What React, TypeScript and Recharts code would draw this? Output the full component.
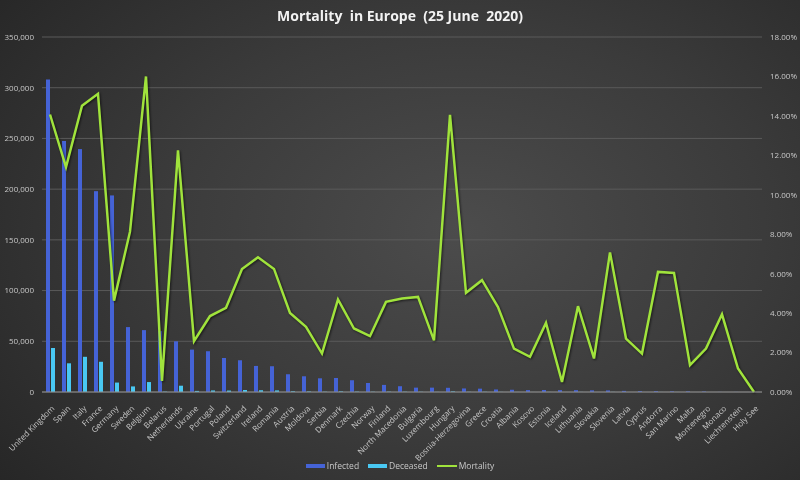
import React from 'react';
import { ComposedChart, Bar, Line, XAxis, YAxis, CartesianGrid } from 'recharts';

const countries = [
  'United Kingdom', 'Spain', 'Italy', 'France', 'Germany', 'Sweden', 'Belgium', 'Belarus', 'Netherlands',
  'Ukraine', 'Portugal', 'Poland', 'Switzerland', 'Ireland', 'Romania', 'Austria', 'Moldova', 'Serbia',
  'Denmark', 'Czechia', 'Norway', 'Finland', 'North Macedonia', 'Bulgaria', 'Luxembourg', 'Hungary',
  'Bosnia-Herzegovina', 'Greece', 'Croatia', 'Albania', 'Kosovo', 'Estonia', 'Iceland', 'Lithuania',
  'Slovakia', 'Slovenia', 'Latvia', 'Cyprus', 'Andorra', 'San Marino', 'Malta', 'Montenegro', 'Monaco',
  'Liechtenstein', 'Holy See',
];

const infected = [
  308000, 247500, 239500, 198000, 193800, 64000, 61000, 60000, 50000, 41800, 40200, 33500, 31300, 25700,
  25400, 17500, 15500, 13500, 13800, 11600, 8900, 7000, 5700, 4300, 4300, 4150, 3500, 3300, 2500, 2200,
  1900, 2000, 1840, 1820, 1620, 1550, 1110, 990, 855, 700, 670, 520, 100, 83, 12,
];

const deceased = [
  43400, 28300, 34700, 29800, 9300, 5500, 9800, 340, 6200, 1080, 1540, 1430, 1960, 1730, 1580, 700, 510,
  260, 600, 350, 250, 320, 270, 210, 110, 580, 175, 190, 107, 48, 34, 69, 10, 79, 28, 110, 30, 19, 52, 42,
  9, 11, 4, 1, 0,
];

// percent
const mortality = [
  14.07, 11.4, 14.52, 15.12, 4.63, 8.13, 16.0, 0.56, 12.25, 2.58, 3.85, 4.27, 6.24, 6.83, 6.24, 4.01, 3.3,
  1.95, 4.69, 3.22, 2.83, 4.57, 4.74, 4.82, 2.62, 14.05, 5.03, 5.67, 4.31, 2.2, 1.78, 3.5, 0.51, 4.35, 1.7,
  7.08, 2.71, 1.95, 6.09, 6.04, 1.36, 2.2, 3.94, 1.19, 0,
];

const leftTicks = [0, 50000, 100000, 150000, 200000, 250000, 300000, 350000];
const rightTicks = [0, 2, 4, 6, 8, 10, 12, 14, 16, 18];

const data = countries.map((name, i) => ({
  name, infected: infected[i], deceased: deceased[i], mortality: mortality[i],
}));

const FONT = '"Open Sans", Lato, sans-serif';
const TXT = '#c8c8c8';

function CountryTick({ x, y, payload }: any) {
  return (
    <text x={x + 5} y={y + 9} transform={`rotate(-45, ${x + 5}, ${y + 9})`}
      textAnchor="end" fontSize={8} fill={TXT} fontFamily={FONT}>
      {payload.value}
    </text>
  );
}

export default function App() {
  return (
    <div style={{
      position: 'fixed', left: 0, top: 0, width: 800, height: 480, overflow: 'hidden',
      background: 'radial-gradient(ellipse 75% 85% at 58% 48%, #4c4c4c 0%, #3b3b3b 50%, #262626 100%)',
      fontFamily: FONT,
    }}>
      <style>{`.mort-line .recharts-curve { filter: drop-shadow(1px 1.5px 1px rgba(0,0,0,0.6)); }`}</style>
      <div style={{
        position: 'absolute', top: 6, left: 0, width: 800, textAlign: 'center', whiteSpace: 'pre',
        color: '#f2f2f2', fontWeight: 700, fontSize: 14,
      }}>
        {'Mortality  in Europe  (25 June  2020)'}
      </div>

      <ComposedChart width={800} height={480} data={data}
        margin={{ top: 37, right: 0, bottom: 0, left: 0 }} barGap={1}>
        <CartesianGrid yAxisId="left" vertical={false} stroke="#5a5a5a" strokeWidth={1} />
        <XAxis dataKey="name" interval={0} height={88} tickLine={false}
          axisLine={{ stroke: '#8c8c8c' }} tick={<CountryTick />} />
        <YAxis yAxisId="left" width={42} domain={[0, 350000]} ticks={leftTicks}
          axisLine={false} tickLine={false} interval={0}
          tickFormatter={(v: number) => v.toLocaleString('en-US')}
          tick={{ fill: TXT, fontSize: 8, fontFamily: FONT }} />
        <YAxis yAxisId="right" orientation="right" width={38} domain={[0, 18]} ticks={rightTicks}
          axisLine={false} tickLine={false} interval={0}
          tickFormatter={(v: number) => `${v.toFixed(2)}%`}
          tick={{ fill: TXT, fontSize: 8, fontFamily: FONT }} />
        <Bar yAxisId="left" dataKey="infected" fill="#4563d6" barSize={4} isAnimationActive={false} />
        <Bar yAxisId="left" dataKey="deceased" fill="#49c8f2" barSize={4} isAnimationActive={false} />
        <Line yAxisId="right" dataKey="mortality" className="mort-line" stroke="#a0e33c" strokeWidth={2.5}
          dot={false} type="linear" isAnimationActive={false} />
      </ComposedChart>

      <div style={{
        position: 'absolute', top: 460, left: 0, width: 800, display: 'flex', justifyContent: 'center',
        alignItems: 'center', fontSize: 8.5, color: TXT, gap: 9,
      }}>
        <span style={{ display: 'flex', alignItems: 'center', gap: 2 }}>
          <span style={{ width: 19, height: 4, background: '#4563d6' }} />Infected
        </span>
        <span style={{ display: 'flex', alignItems: 'center', gap: 2 }}>
          <span style={{ width: 19, height: 4, background: '#49c8f2' }} />Deceased
        </span>
        <span style={{ display: 'flex', alignItems: 'center', gap: 2 }}>
          <span style={{ width: 20, height: 2, background: '#a0e33c' }} />Mortality
        </span>
      </div>
    </div>
  );
}
